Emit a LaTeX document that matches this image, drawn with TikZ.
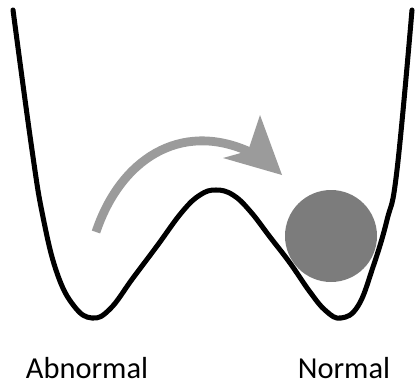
\documentclass[tikz,border=0pt]{standalone}
\usepackage{fontspec}
\setmainfont{Carlito}
\definecolor{ballgray}{RGB}{124,124,124}
\definecolor{arrowgray}{RGB}{155,155,155}
\tikzset{
  well/.style={line width=4.3pt, line cap=round, line join=round},
  label/.style={font=\fontsize{26}{28}\selectfont, anchor=base}
}
\begin{document}
\begin{tikzpicture}[x=0.03cm, y=-0.03cm]
\useasboundingbox (0,0) rectangle (417,384);

% double well
\draw[well] plot[smooth, tension=0.7] coordinates {
  (13,10) (32,150) (43,217) (57,273) (74,306) (92,318) (110,309)
  (133,278) (157,246) (182,212) (200,195) (216,190) (233,195)
  (250,211) (270,237) (290,263) (310,292) (326,311) (341,318)
  (358,306) (373,267) (387,220) (397,170) (412,10)};

\draw[arrowgray, line width=7.5pt] (96,232) .. controls (120,160) and (180,120) .. (250,152);
\fill[arrowgray] (260,115) -- (282,175) -- (223,158) -- (248,151) -- cycle;

\node[circle, fill=ballgray, minimum size=92*0.03cm, inner sep=0pt] (ball) at (331,236) {};

\node[label] (abnormal) at (87,378) {Abnormal};
\node[label] (normal) at (344,378) {Normal};

\end{tikzpicture}
\end{document}
